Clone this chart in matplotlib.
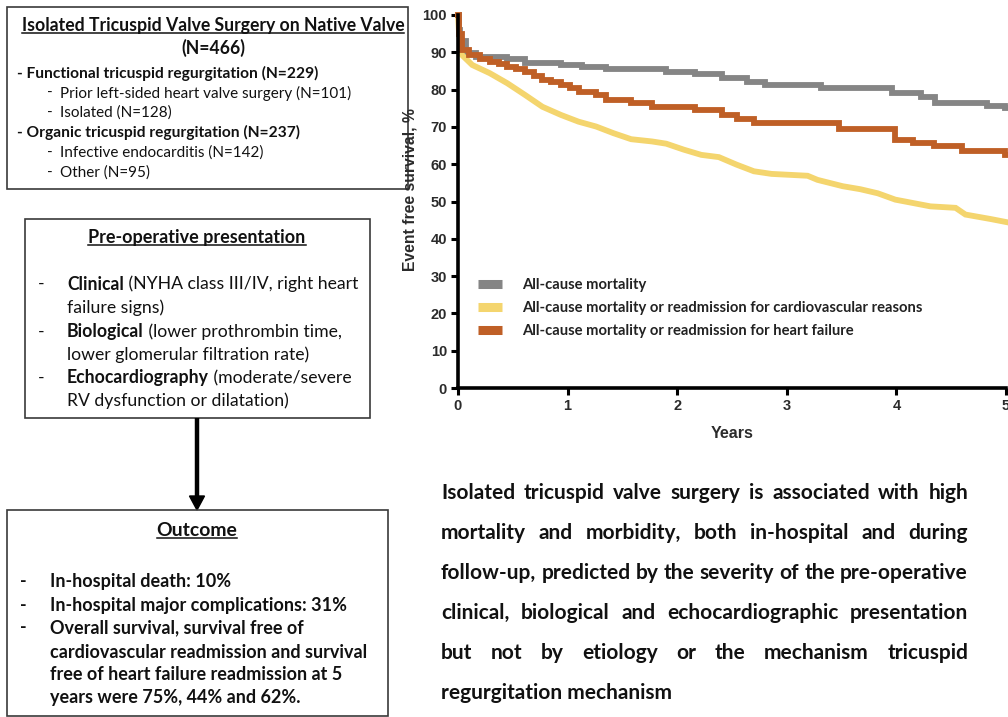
import matplotlib
matplotlib.use('Agg')
import matplotlib.pyplot as plt
from matplotlib.lines import Line2D
from matplotlib.patches import Rectangle, Polygon

# ---------------- data ----------------
x_ticks = [0, 1, 2, 3, 4, 5]
y_ticks = [0, 10, 20, 30, 40, 50, 60, 70, 80, 90, 100]

# All-cause mortality (step curve)
t_mort = [0, 0.01, 0.02, 0.07, 0.16, 0.45, 0.61, 0.94, 1.13, 1.35, 1.90, 2.16, 2.41, 2.64, 2.80,
          3.31, 3.96, 4.22, 4.35, 4.83, 4.99, 5.0]
s_mort = [100, 96, 93, 89.7, 88.8, 88.1, 87.2, 86.6, 86.1, 85.4, 84.8, 84.2, 83.0, 82.1, 81.1,
          80.3, 79.2, 78.1, 76.5, 75.6, 75.0, 75.0]

# All-cause mortality or CV readmission
t_cv = [0, 0.01, 0.035, 0.13, 0.29, 0.45, 0.61, 0.77, 0.94, 1.10, 1.26, 1.42, 1.58, 1.77, 1.90,
        2.06, 2.22, 2.38, 2.54, 2.70, 2.86, 3.19, 3.28, 3.51, 3.67, 3.83, 3.99, 4.15, 4.31, 4.54,
        4.63, 4.86, 5.0]
s_cv = [100, 95, 89.3, 86.6, 84.4, 81.7, 78.6, 75.4, 73.2, 71.4, 70.1, 68.3, 66.7, 66.1, 65.5,
        63.9, 62.5, 61.9, 59.9, 58.1, 57.4, 56.9, 55.8, 54.1, 53.3, 52.2, 50.5, 49.6, 48.7, 48.3,
        46.5, 45.3, 44.5]

# All-cause mortality or heart-failure readmission (step curve)
t_hf = [0, 0.01, 0.035, 0.10, 0.20, 0.29, 0.37, 0.45, 0.53, 0.61, 0.69, 0.77, 0.85, 0.94, 1.02,
        1.10, 1.26, 1.35, 1.58, 1.77, 2.16, 2.41, 2.55, 2.70, 3.48, 3.99, 4.15, 4.34, 4.60, 4.99, 5.0]
s_hf = [100, 95, 90.6, 89.3, 88.3, 87.5, 86.8, 86.1, 85.4, 84.8, 83.7, 82.7, 82.0, 81.2, 80.3,
        79.4, 78.6, 77.2, 76.5, 75.4, 74.4, 73.2, 72.1, 71.0, 69.4, 66.5, 65.8, 64.9, 63.5, 62.4, 62.4]

series_labels = ["All-cause mortality",
                 "All-cause mortality or readmission for cardiovascular reasons",
                 "All-cause mortality or readmission for heart failure"]
series_colors = ["#858585", "#F4D56E", "#BF5F26"]
series_draw = ['steps-post', 'default', 'steps-post']

# ---------------- figure ----------------
W, H = 1008, 717
fig = plt.figure(figsize=(W / 100, H / 100), dpi=100)
fig.patch.set_facecolor('white')

ov = fig.add_axes([0, 0, 1, 1])
ov.set_xlim(0, W)
ov.set_ylim(H, 0)
ov.axis('off')

renderer = fig.canvas.get_renderer()
FAM = ['Lato', 'DejaVu Sans']
TXT = '#111111'


def text_w(s, size, weight='normal', family=FAM):
    t = ov.text(0, 0, s, fontsize=size, fontweight=weight, family=family)
    bb = t.get_window_extent(renderer)
    t.remove()
    return bb.width


def fit(s, target, weight='normal', family=FAM):
    return 10 * target / text_w(s, 10, weight, family)


def put(x, y, s, size, weight='normal', ha='left', family=FAM, color=TXT):
    return ov.text(x, y, s, fontsize=size, fontweight=weight, ha=ha, va='center',
                   family=family, color=color)


def underline_title(xc, y, s, size):
    t = put(xc, y, s, size, 'bold', ha='center')
    bb = t.get_window_extent(renderer)
    ov.plot([bb.x0, bb.x1], [H - bb.y0 - 1, H - bb.y0 - 1], color=TXT, lw=1.1)


def rich(x, y, parts, size):
    cx = x
    for s, w in parts:
        put(cx, y, s, size, w)
        cx += text_w(s, size, w)


def box(x0, y0, x1, y1):
    ov.add_patch(Rectangle((x0, y0), x1 - x0, y1 - y0, fill=False, ec='#3a3a3a', lw=1.2))


# ---------- box 1 ----------
box(7, 7, 408, 189)
t1 = "Isolated Tricuspid Valve Surgery on Native Valve"
s_t1 = fit(t1, 383, 'bold')
underline_title(213, 25, t1, s_t1)
put(213, 48, "(N=466)", s_t1, 'bold', ha='center')
s_b1 = fit("- Functional tricuspid regurgitation (N=229)", 300, 'bold')
s_r1 = fit("Prior left-sided heart valve surgery (N=101)", 292)
put(17, 73, "- Functional tricuspid regurgitation (N=229)", s_b1, 'bold')
put(47, 93, "-", s_r1)
put(60, 93, "Prior left-sided heart valve surgery (N=101)", s_r1)
put(47, 113, "-", s_r1)
put(60, 113, "Isolated (N=128)", s_r1)
put(17, 132, "- Organic tricuspid regurgitation (N=237)", s_b1, 'bold')
put(47, 153, "-", s_r1)
put(60, 153, "Infective endocarditis (N=142)", s_r1)
put(47, 173, "-", s_r1)
put(60, 173, "Other (N=95)", s_r1)

# ---------- box 2 ----------
box(25, 219, 370, 418)
s_t2 = fit("Pre-operative presentation", 217, 'bold')
underline_title(197, 237, "Pre-operative presentation", s_t2)
rows2 = [
    (284, True, [("Clinical", 'bold'), (" (NYHA class III/IV, right heart", 'normal')]),
    (308, False, [("failure signs)", 'normal')]),
    (332, True, [("Biological", 'bold'), (" (lower prothrombin time,", 'normal')]),
    (355, False, [("lower glomerular filtration rate)", 'normal')]),
    (378, True, [("Echocardiography", 'bold'), (" (moderate/severe", 'normal')]),
    (401, False, [("RV dysfunction or dilatation)", 'normal')]),
]
s2 = fit("Clinical (NYHA class III/IV, right heart", 288)
for y, dash, parts in rows2:
    if dash:
        put(38, y, "-", s2)
    rich(67, y, parts, s2)

# ---------- arrow ----------
ov.plot([197, 197], [418, 498], color='black', lw=3.2, solid_capstyle='butt')
ov.add_patch(Polygon([[189.5, 496], [204.5, 496], [197, 510]], closed=True, fc='black', ec='black'))

# ---------- box 3 ----------
box(7, 510, 388, 716)
s_t3 = fit("Outcome", 81, 'bold')
underline_title(197, 530, "Outcome", s_t3)
s3 = fit("cardiovascular readmission and survival", 318, 'bold')
rows3 = [
    (582, True, "In-hospital death: 10%"),
    (605, True, "In-hospital major complications: 31%"),
    (628, True, "Overall survival, survival free of"),
    (652, False, "cardiovascular readmission and survival"),
    (674, False, "free of heart failure readmission at 5"),
    (697, False, "years were 75%, 44% and 62%."),
]
for y, dash, s in rows3:
    if dash:
        put(20, y, "-", s3, 'bold')
    put(50, y, s, s3, 'bold')

# ---------- bottom-right justified text ----------
para = ["Isolated tricuspid valve surgery is associated with high",
        "mortality and morbidity, both in-hospital and during",
        "follow-up, predicted by the severity of the pre-operative",
        "clinical, biological and echocardiographic presentation",
        "but not by etiology or the mechanism tricuspid",
        "regurgitation mechanism"]
para_y = [493, 533, 573, 613, 653, 693]
XL, XR = 441, 968
sp = fit(para[2], XR - XL, 'bold')
for i, (line, y) in enumerate(zip(para, para_y)):
    words = line.split()
    if i == len(para) - 1:
        put(XL, y, line, sp, 'bold')
        continue
    widths = [text_w(w, sp, 'bold') for w in words]
    gap = (XR - XL - sum(widths)) / (len(words) - 1)
    cx = XL
    for w, wd in zip(words, widths):
        put(cx, y, w, sp, 'bold')
        cx += wd + gap

# ---------- chart ----------
ax = fig.add_axes([458 / W, 1 - 388 / H, (1006 - 458) / W, (388 - 15) / H])
ax.patch.set_alpha(0)
for t, s, c, lab, ds in zip([t_mort, t_cv, t_hf], [s_mort, s_cv, s_hf], series_colors,
                            series_labels, series_draw):
    ax.plot(t, s, drawstyle=ds, color=c, lw=4.2, label=lab, clip_on=False,
            solid_joinstyle='miter')
ax.set_xlim(0, 5)
ax.set_ylim(0, 100)
ax.set_xticks(x_ticks)
ax.set_yticks(y_ticks)
for sp_name in ['top', 'right']:
    ax.spines[sp_name].set_visible(False)
for sp_name in ['left', 'bottom']:
    ax.spines[sp_name].set_linewidth(2.6)
    ax.spines[sp_name].set_color('black')
ax.tick_params(direction='out', length=5, width=2.2, colors='black', pad=3)
LF = ['Liberation Sans', 'DejaVu Sans']
for lab in ax.get_xticklabels() + ax.get_yticklabels():
    lab.set_family(LF)
    lab.set_fontweight('bold')
    lab.set_fontsize(10.5)
    lab.set_color('#2b2b2b')
ax.set_xlabel("Years", family=LF, fontweight='bold', fontsize=11.5, color='#2b2b2b', labelpad=9)
ax.set_ylabel("Event free survival, %", family=LF, fontweight='bold', fontsize=11.3,
              color='#2b2b2b')
ax.yaxis.set_label_coords(-0.074, (388 - 190) / 373)

s_leg = fit(series_labels[1], 401, 'bold')
handles = [Line2D([0], [0], color=c, lw=6.5, solid_capstyle='butt') for c in series_colors]
leg = ax.legend(handles, series_labels, loc='center left',
                bbox_to_anchor=((478 - 458) / 548, (388 - 308) / 373),
                frameon=False, borderpad=0, borderaxespad=0, handlelength=1.6,
                handletextpad=1.4, labelspacing=0.6,
                prop={'family': FAM, 'weight': 'bold', 'size': s_leg})
for t in leg.get_texts():
    t.set_color('#222222')

fig.savefig('out.png', dpi=100, facecolor='white')
